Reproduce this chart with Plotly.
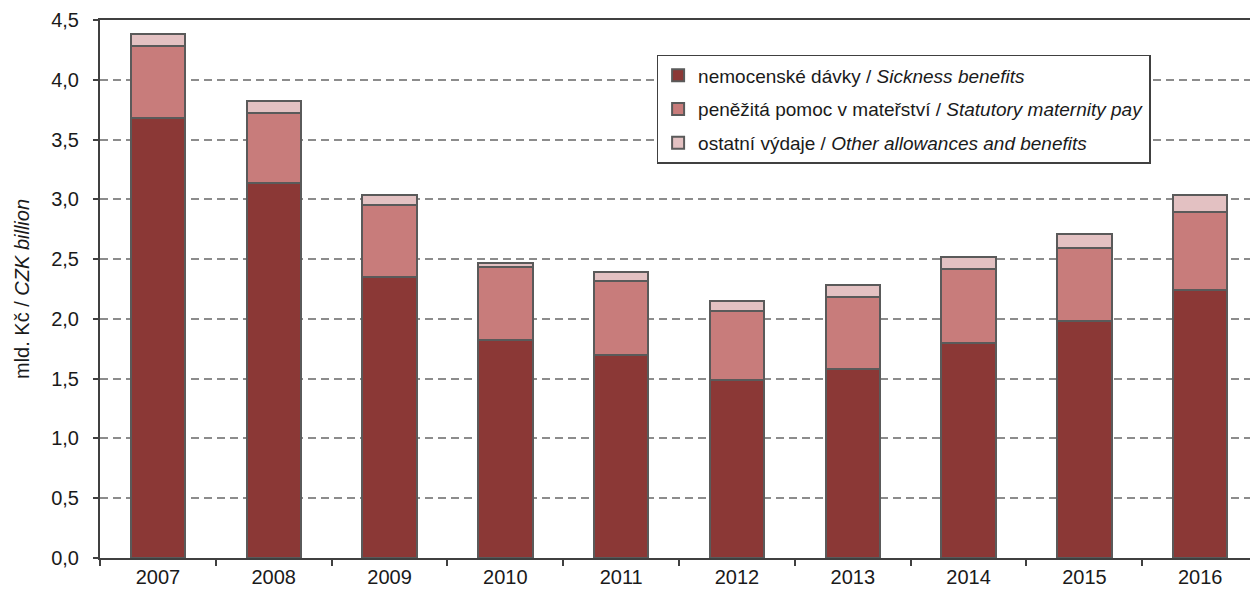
import plotly.graph_objects as go

# Sickness insurance expenditure by type, CZK billion
years = ["2007", "2008", "2009", "2010", "2011", "2012", "2013", "2014", "2015", "2016"]
sickness = [3.68, 3.14, 2.35, 1.82, 1.70, 1.49, 1.58, 1.80, 1.98, 2.24]
maternity = [0.60, 0.58, 0.60, 0.61, 0.62, 0.58, 0.60, 0.62, 0.61, 0.65]
other = [0.10, 0.10, 0.09, 0.04, 0.07, 0.08, 0.10, 0.10, 0.12, 0.15]

series_names = [
    "nemocenské dávky / <i>Sickness benefits</i>",
    "peněžitá pomoc v mateřství / <i>Statutory maternity pay</i>",
    "ostatní výdaje / <i>Other allowances and benefits</i>",
]
series_colors = ["#8B3836", "#C87C7B", "#E3C1C2"]
y_ticks = [0.0, 0.5, 1.0, 1.5, 2.0, 2.5, 3.0, 3.5, 4.0, 4.5]
y_tick_text = [f"{v:.1f}".replace(".", ",") for v in y_ticks]

FONT = "Liberation Sans, Arial, sans-serif"
EDGE = "#5a5a5a"
TEXT = "#1a1a1a"

fig = go.Figure()
for i, (name, vals, col) in enumerate(zip(series_names, [sickness, maternity, other], series_colors)):
    fig.add_trace(go.Bar(
        x=years, y=vals, name=name,
        marker=dict(color=col, line=dict(color=EDGE, width=2)),
        legendgroup=f"g{i}",
    ))

fig.update_layout(
    width=1250, height=592,
    margin=dict(l=100, r=0, t=20, b=34),
    barmode="stack",
    bargap=0.53,
    plot_bgcolor="white",
    paper_bgcolor="white",
    font=dict(family=FONT, size=20, color=TEXT),
    showlegend=True,
    legend=dict(
        x=0.484, y=0.935, xanchor="left", yanchor="top",
        bgcolor="white", bordercolor="#404040", borderwidth=1.5,
        font=dict(family=FONT, size=19, color=TEXT),
        traceorder="grouped", tracegroupgap=6,
        itemwidth=30,
    ),
    xaxis=dict(
        type="category",
        range=[-0.5, 9.43],
        showline=True, linecolor="#404040", linewidth=2, mirror=True,
        ticks="outside", tickson="boundaries", ticklen=6, tickwidth=1.5, tickcolor="#404040",
        showgrid=False,
        tickfont=dict(family=FONT, size=20, color=TEXT),
    ),
    yaxis=dict(
        range=[0, 4.5],
        tickvals=y_ticks, ticktext=y_tick_text,
        showline=True, linecolor="#404040", linewidth=2,
        ticks="outside", ticklen=5, tickwidth=1.5, tickcolor="#404040",
        ticklabelstandoff=10,
        showgrid=True, gridcolor="#8c8c8c", gridwidth=1.5, griddash="8px,5px",
        zeroline=False,
        tickfont=dict(family=FONT, size=20, color=TEXT),
        title=dict(text="mld. Kč / <i>CZK billion</i>", standoff=16,
                   font=dict(family=FONT, size=20, color=TEXT)),
    ),
)

fig.write_html("out.html")
